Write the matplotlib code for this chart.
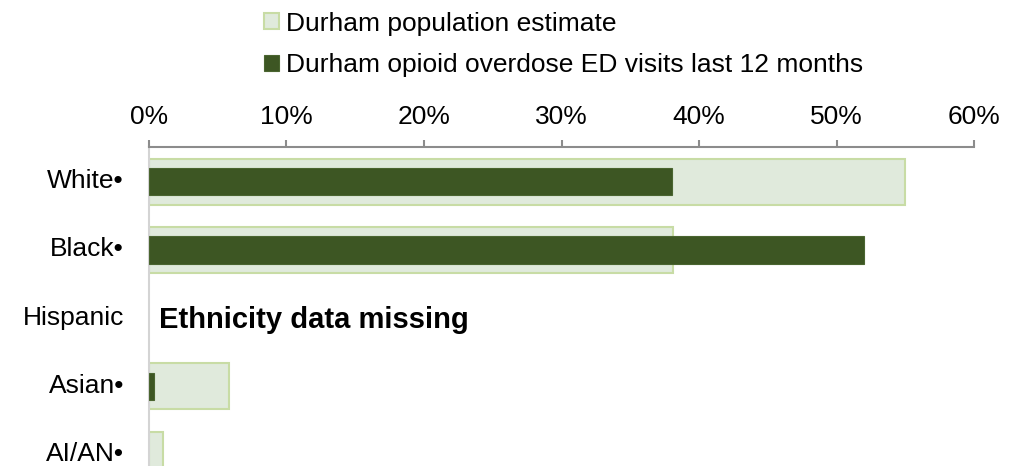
import matplotlib
matplotlib.use('Agg')
import matplotlib.pyplot as plt
from matplotlib.ticker import PercentFormatter
from matplotlib.transforms import ScaledTranslation
import numpy as np

categories = ['White\u2022', 'Black\u2022', 'Hispanic', 'Asian\u2022', 'AI/AN\u2022']
population_pct = [55.0, 38.1, 0.0, 5.8, 1.0]
opioid_ed_pct = [38.0, 52.0, 0.0, 0.4, 0.0]
legend_list = ['Durham population estimate', 'Durham opioid overdose ED visits last 12 months']
x_ticks = [0, 10, 20, 30, 40, 50, 60]
missing_note = 'Ethnicity data missing'


def draw_race_bars():
    font = {'family': ['Liberation Sans', 'DejaVu Sans'],
            'weight': 'normal',
            'size': 19}
    plt.rc('font', **font)

    fig = plt.figure(figsize=(10.24, 4.66), dpi=100)
    # axes runs past the bottom edge, the last row is cut like in the source
    ax = fig.add_axes([0.1455, -0.049, 0.8057, 0.7325])

    y = np.arange(len(categories))
    # no outline on empty bars
    pop_lw = [1.5 if v > 0 else 0 for v in population_pct]
    ed_lw = [0.8 if v > 0 else 0 for v in opioid_ed_pct]
    ax.barh(y, population_pct, height=0.675, color='#e0eadc',
            edgecolor='#c8dca5', linewidth=pop_lw, label=legend_list[0], zorder=2)
    ax.barh(y, opioid_ed_pct, height=0.4, color='#3d5623',
            edgecolor='#4a6530', linewidth=ed_lw, label=legend_list[1], zorder=3)

    ax.set_xlim(0, 60)
    ax.set_ylim(len(categories) - 0.5, -0.5)
    ax.set_xticks(x_ticks)
    ax.xaxis.set_major_formatter(PercentFormatter(decimals=0))
    ax.xaxis.tick_top()
    ax.tick_params(axis='x', direction='out', length=5, width=1.5,
                   color='#8c8c8c', pad=8)
    ax.set_yticks(y)
    ax.set_yticklabels(categories)
    ax.tick_params(axis='y', length=0, pad=18)
    shift_up = ScaledTranslation(0, 3 / 100, fig.dpi_scale_trans)
    for lab in ax.get_yticklabels():
        lab.set_transform(lab.get_transform() + shift_up)

    for side in ['right', 'bottom']:
        ax.spines[side].set_visible(False)
    ax.spines['top'].set_color('#8c8c8c')
    ax.spines['top'].set_linewidth(1.5)
    ax.spines['left'].set_color('#d4d4d4')
    ax.spines['left'].set_linewidth(1.5)

    ax.text(0.75, 2.03, missing_note, fontweight='bold', fontsize=21,
            va='center', ha='left')

    handles, labels = ax.get_legend_handles_labels()
    fig.legend(handles, labels, loc='upper left', bbox_to_anchor=(0.258, 0.975),
               frameon=False, handlelength=0.55, handleheight=0.55,
               handletextpad=0.28, labelspacing=0.67, borderpad=0.0,
               borderaxespad=0.0)

    plt.savefig('out.png', dpi=100)


if __name__ == '__main__':
    draw_race_bars()
